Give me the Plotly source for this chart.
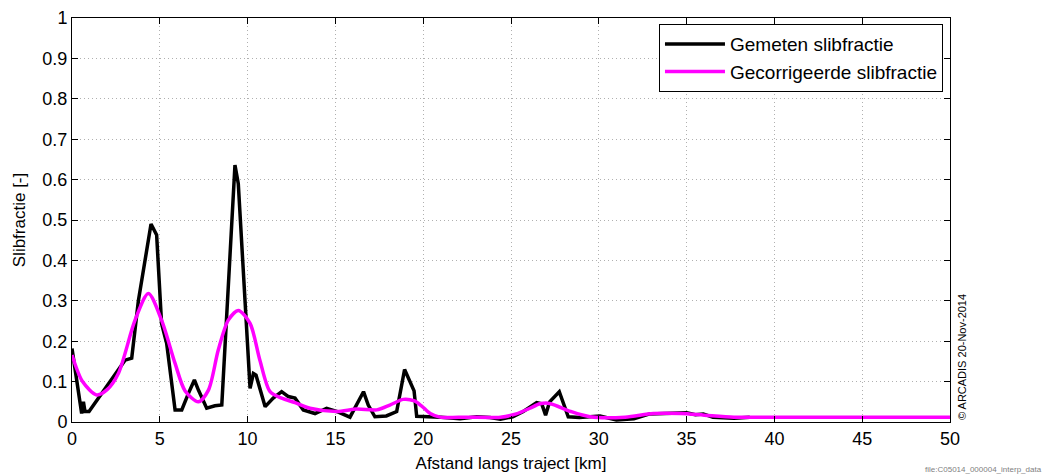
import plotly.graph_objects as go

# Measured silt fraction along the track
afstand_gemeten = [0.0, 0.55, 0.65, 0.74, 0.97, 3.02, 3.4, 3.78, 4.5, 4.82, 5.1, 5.39, 5.87, 6.25,
                   6.63, 6.97, 7.2, 7.67, 8.14, 8.53, 9.28, 9.47, 10.14, 10.33, 10.48, 11.0,
                   11.46, 11.94, 12.32, 12.7, 13.17, 13.84, 14.5, 15.07, 15.83, 16.6, 16.87,
                   17.25, 17.9, 18.49, 18.94, 19.48, 19.63, 20.0, 21.0, 22.1, 23.05, 23.8,
                   24.4, 25.1, 25.7, 26.46, 26.75, 26.97, 27.2, 27.75, 28.26, 28.9, 30.07,
                   31.0, 32.0, 32.9, 34.2, 35.0, 35.5, 35.95, 36.5, 37.7, 38.6]
slib_gemeten = [0.182, 0.021, 0.05, 0.026, 0.026, 0.153, 0.158, 0.30, 0.49, 0.463, 0.244, 0.195,
                0.03, 0.03, 0.071, 0.104, 0.079, 0.034, 0.04, 0.042, 0.636, 0.59, 0.083, 0.12,
                0.116, 0.038, 0.059, 0.075, 0.063, 0.059, 0.03, 0.021, 0.034, 0.026, 0.012,
                0.075, 0.042, 0.013, 0.015, 0.026, 0.13, 0.077, 0.014, 0.014, 0.012, 0.008,
                0.013, 0.011, 0.007, 0.013, 0.026, 0.048, 0.045, 0.017, 0.05, 0.075, 0.013,
                0.011, 0.015, 0.005, 0.008, 0.02, 0.021, 0.023, 0.018, 0.02, 0.012, 0.009, 0.012]

# Corrected (smoothed) silt fraction
afstand_gecorr = [0.0, 0.6, 1.4, 2.0, 2.64, 3.59, 4.35, 5.1, 5.87, 6.44, 7.2, 7.77, 8.33, 8.9,
                  9.47, 10.14, 10.7, 11.28, 11.94, 12.7, 13.55, 15.07, 16.2, 17.35, 18.1,
                  18.87, 19.5, 19.9, 20.4, 20.96, 22.5, 24.4, 25.3, 26.08, 26.65, 27.2, 28.4,
                  29.5, 31.5, 33.1, 34.7, 36.0, 37.7, 40.0, 45.0, 50.0]
slib_gecorr = [0.166, 0.1, 0.067, 0.08, 0.12, 0.252, 0.318, 0.252, 0.145, 0.077, 0.05, 0.079,
               0.178, 0.252, 0.276, 0.244, 0.153, 0.075, 0.059, 0.048, 0.034, 0.026, 0.032,
               0.03, 0.042, 0.056, 0.052, 0.04, 0.021, 0.012, 0.012, 0.012, 0.02, 0.034,
               0.045, 0.046, 0.026, 0.013, 0.012, 0.021, 0.021, 0.017, 0.012, 0.012, 0.012, 0.012]

x_ticks = list(range(0, 51, 5))
y_ticks = [i / 10 for i in range(11)]
y_labels = ["0", "0.1", "0.2", "0.3", "0.4", "0.5", "0.6", "0.7", "0.8", "0.9", "1"]

fig = go.Figure()
fig.add_trace(go.Scatter(x=afstand_gemeten, y=slib_gemeten, mode="lines",
                         name="Gemeten slibfractie",
                         line=dict(color="black", width=3.5)))
fig.add_trace(go.Scatter(x=afstand_gecorr, y=slib_gecorr, mode="lines",
                         name="Gecorrigeerde slibfractie",
                         line=dict(color="#ff00ff", width=3.5, shape="spline", smoothing=0.8)))

axis_common = dict(showline=True, linecolor="black", linewidth=1, mirror="ticks",
                   ticks="inside", ticklen=6, tickcolor="black", automargin=False,
                   showgrid=True, gridcolor="#b0b0b0", griddash="1px,3px", gridwidth=1,
                   zeroline=False, tickfont=dict(family="Liberation Sans, Arial", size=18, color="black"),
                   title_font=dict(family="Liberation Sans, Arial", size=17, color="black"))

fig.update_xaxes(range=[0, 50], tickvals=x_ticks, title_text="Afstand langs traject [km]",
                 title_standoff=9, **axis_common)
fig.update_yaxes(range=[0, 1], tickvals=y_ticks, ticktext=y_labels, title_text="Slibfractie [-]",
                 title_standoff=12, **axis_common)

fig.update_layout(
    width=1052, height=475,
    margin=dict(l=72, r=102, t=18, b=53, autoexpand=False),
    paper_bgcolor="white", plot_bgcolor="white",
    showlegend=True,
    legend=dict(x=0.992, y=0.985, xanchor="right", yanchor="top",
                bgcolor="white", bordercolor="black", borderwidth=1,
                font=dict(family="Liberation Sans, Arial", size=19, color="black"),
                itemwidth=60, tracegroupgap=0),
    annotations=[
        dict(text="© ARCADIS 20-Nov-2014", xref="paper", yref="paper", x=1.0, y=0.0,
             xshift=4, xanchor="left", yanchor="bottom", textangle=-90, showarrow=False,
             font=dict(family="Liberation Sans, Arial", size=11, color="black")),
        dict(text="file:C05014_000004_interp_data", xref="paper", yref="paper", x=1.0, y=0.0,
             xshift=94, yshift=-47, xanchor="right", yanchor="middle", showarrow=False,
             font=dict(family="Liberation Sans, Arial", size=8, color="#808080")),
    ],
)

fig.write_html("out.html")
